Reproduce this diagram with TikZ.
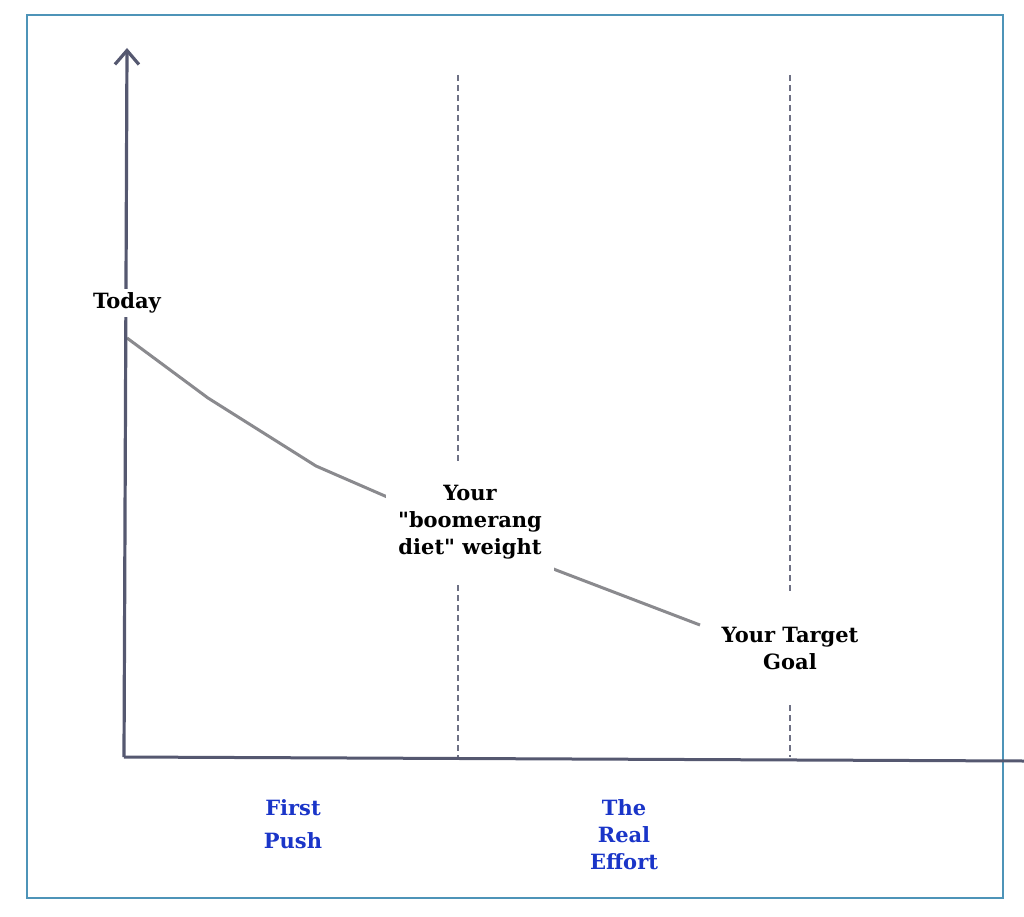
\documentclass[tikz,border=0pt]{standalone}
\usepackage{fontspec}
\setmainfont{DejaVu Serif}
\usetikzlibrary{arrows.meta}
\definecolor{frameblue}{HTML}{4E94B8}
\definecolor{axisgray}{HTML}{555870}
\definecolor{curvegray}{HTML}{8A8A8E}
\definecolor{labelblue}{HTML}{1A35C8}
\tikzset{
  lbl/.style={fill=white,inner xsep=6pt,inner ysep=4pt,align=center,font=\fontsize{21}{27}\selectfont\bfseries},
  phase/.style={align=center,text=labelblue,font=\fontsize{21}{27}\selectfont\bfseries},
  guide/.style={axisgray!85,line width=2pt,dash pattern=on 6pt off 4pt},
}
\begin{document}
\begin{tikzpicture}[x=1pt,y=-1pt]
    \useasboundingbox (0,0) rectangle (1024,917);
    \draw[frameblue,line width=2pt] (27,15) rectangle (1003,898);
    \draw[guide] (458,75) -- (458,757);
    \draw[guide] (790,75) -- (790,757);
    \draw[curvegray,line width=3pt,line join=round] (127,338) -- (208,398) -- (316,466) -- (470,533) -- (556,570) -- (700,625);
    \draw[axisgray,line width=3.2pt,-{Straight Barb[length=14pt,width=24pt,line width=3.2pt]}] (124,757) -- (127,48);
    \draw[axisgray,line width=3pt] (124,757) -- (1024,761);
    \node[lbl] (today) at (127,303) {Today};
    \node[lbl,inner ysep=22pt,inner xsep=12pt] (boom) at (470,522) {Your\\\textquotedbl boomerang\\diet\textquotedbl{} weight};
    \node[lbl,inner ysep=36pt,inner xsep=18pt] (goal) at (790,648) {Your Target\\Goal};
    \node[phase] (push) at (293,824) {First\\[6pt]Push};
    \node[phase] (effort) at (624,835) {The\\Real\\Effort};
\end{tikzpicture}
\end{document}
